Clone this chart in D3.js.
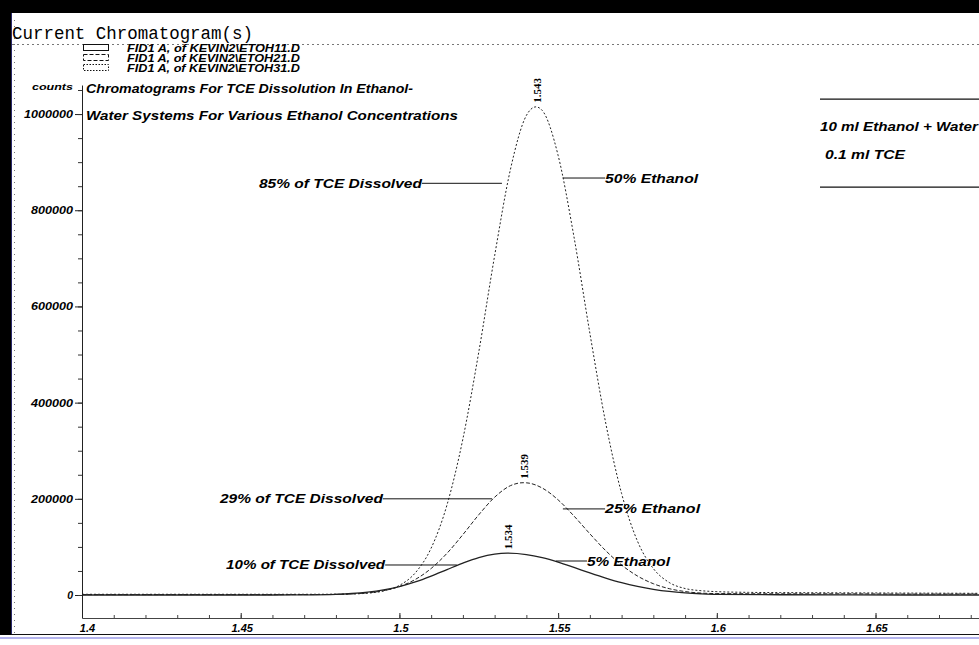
<!DOCTYPE html>
<html><head><meta charset="utf-8">
<script src="https://cdn.jsdelivr.net/npm/d3@7"></script>
<style>html,body{margin:0;padding:0;background:#fff;}svg{display:block}</style>
</head><body><svg id="c" width="979" height="645"></svg>
<script>
// ---- data ----
const t50 = [1.400,1.420,1.440,1.460,1.470,1.480,1.485,1.490,1.495,1.500,1.505,1.510,1.515,1.520,1.525,1.530,1.535,1.540,1.543,1.545,1.550,1.555,1.560,1.565,1.570,1.575,1.580,1.585,1.590,1.595,1.600,1.610,1.620,1.640,1.660,1.683];
const v50 = [1500,1500,1500,1500,1500,1700,2200,3800,8400,20000,46000,97500,187500,324500,505000,705500,885500,997000,1015000,1007500,914000,744500,544500,357500,211000,112000,55000,26000,13500,9000,7000,5500,5000,4500,4000,3500];
const t25 = [1.400,1.440,1.460,1.475,1.480,1.485,1.490,1.495,1.500,1.505,1.510,1.515,1.520,1.525,1.530,1.535,1.539,1.540,1.545,1.550,1.555,1.560,1.565,1.570,1.575,1.580,1.585,1.590,1.595,1.600,1.620,1.640,1.660,1.683];
const v25 = [800,800,800,1000,1400,2300,4500,9000,17600,32300,55200,86800,125600,166800,203300,227400,233500,233300,222400,197800,164200,127300,92200,62400,39500,23500,13200,7200,4000,3000,2500,2500,2000,2000];
const t5 = [1.400,1.440,1.460,1.470,1.480,1.485,1.490,1.495,1.500,1.505,1.510,1.515,1.520,1.525,1.530,1.534,1.540,1.545,1.550,1.555,1.560,1.565,1.570,1.575,1.580,1.585,1.590,1.595,1.600,1.620,1.640,1.660,1.683];
const v5 = [0,0,0,300,1500,3100,6000,10600,17500,27100,39200,52800,66300,77800,85100,87000,84100,77600,68300,57300,45900,35100,25500,17800,11800,7400,4500,2600,1400,500,300,0,0];

const peakTimes = [1.534, 1.539, 1.543];
const peakValues = [87000, 233500, 1015000];
const peakLabels = ["1.534", "1.539", "1.543"];

const yTicks = [0, 200000, 400000, 600000, 800000, 1000000];
const yTickLabels = ["0", "200000", "400000", "600000", "800000", "1000000"];
const xTicks = [1.4, 1.45, 1.5, 1.55, 1.6, 1.65];
const xTickLabels = ["1.4", "1.45", "1.5", "1.55", "1.6", "1.65"];

const legendLabels = ["FID1 A,  of KEVIN2\\ETOH11.D", "FID1 A,  of KEVIN2\\ETOH21.D", "FID1 A,  of KEVIN2\\ETOH31.D"];
const titleLines = ["Chromatograms For TCE Dissolution In Ethanol-", "Water Systems For Various Ethanol Concentrations"];

const leftNotes = ["10% of TCE Dissolved", "29% of TCE Dissolved", "85% of TCE Dissolved"];
const leftNoteTimes = [[1.4955, 1.5181], [1.4948, 1.5292], [1.5071, 1.5323]];
const leftNoteValues = [62400, 200000, 856000];
const rightNotes = ["5% Ethanol", "25% Ethanol", "50% Ethanol"];
const rightNoteTimes = [[1.5493, 1.5591], [1.5515, 1.5648], [1.5515, 1.5648]];
const rightNoteValues = [70700, 179000, 867000];

const boxLines = ["10 ml Ethanol + Water", "0.1 ml TCE"];

// ---- layout ----
const svg = d3.select("#c");
const W = 979, H = 645;
const L = 82, R = 979, T = 85, B = 618;
const x = d3.scaleLinear().domain([1.4, 1.6826]).range([L, R]);
const y = d3.scaleLinear().domain([-47800, 1060400]).range([B, T]);

const SANS = "'Liberation Sans', Arial, sans-serif";
function txt(g, px, py, s, size, opts = {}) {
  const t = g.append("text").attr("x", px).attr("y", py).text(s)
    .attr("font-family", opts.family || SANS)
    .attr("font-size", size)
    .attr("font-weight", opts.weight || "bold")
    .attr("font-style", opts.style || "italic")
    .attr("fill", "#000")
    .attr("text-anchor", opts.anchor || "start");
  if (opts.width) t.attr("textLength", opts.width).attr("lengthAdjust", "spacingAndGlyphs");
  return t;
}

svg.append("rect").attr("width", W).attr("height", H).attr("fill", "#fff");
// scan frame
svg.append("rect").attr("x", 0).attr("y", 0).attr("width", W).attr("height", 13).attr("fill", "#000");
svg.append("rect").attr("x", 0).attr("y", 0).attr("width", 11).attr("height", 635).attr("fill", "#000");
svg.append("line").attr("x1", 11.5).attr("x2", 11.5).attr("y1", 13).attr("y2", 635).attr("stroke", "#2a2a6a").attr("stroke-width", 1);
svg.append("line").attr("x1", 14.5).attr("x2", 14.5).attr("y1", 20).attr("y2", 634).attr("stroke", "#777").attr("stroke-dasharray", "1,5");
svg.append("line").attr("x1", 12).attr("x2", W).attr("y1", 44.5).attr("y2", 44.5).attr("stroke", "#777").attr("stroke-dasharray", "2,3");
svg.append("line").attr("x1", 11).attr("x2", W).attr("y1", 634.5).attr("y2", 634.5).attr("stroke", "#111").attr("stroke-width", 1.2);
svg.append("line").attr("x1", 0).attr("x2", W).attr("y1", 638).attr("y2", 638).attr("stroke", "#b4b4ee").attr("stroke-width", 2);

// header
txt(svg, 12, 39, "Current Chromatogram(s)", 17.5, {family: "'Liberation Mono', 'Courier New', monospace", weight: "normal", style: "normal", width: 241});

// legend
const dashes = [null, "4,2", "1.5,1.5"];
legendLabels.forEach((s, i) => {
  const cy = [48, 58, 68][i];
  svg.append("rect").attr("x", 83.5).attr("y", cy - 3.5).attr("width", 25).attr("height", 6)
    .attr("fill", "none").attr("stroke", "#111").attr("stroke-width", 1)
    .attr("stroke-dasharray", dashes[i]);
  txt(svg, 127, cy + 3.5, s, 10, {width: 173});
});

// y label and titles
txt(svg, 32, 90, "counts", 9, {width: 41});
txt(svg, 86, 93, titleLines[0], 13, {width: 327});
txt(svg, 86, 120, titleLines[1], 13, {width: 372});

// axes
const yAxis = svg.append("g").attr("transform", `translate(${L},0)`)
  .call(d3.axisLeft(y).tickValues(yTicks).tickFormat((d, i) => yTickLabels[i]).tickSize(7).tickSizeOuter(0).tickPadding(2));
yAxis.selectAll("text").attr("font-family", SANS).attr("font-size", 10.5).attr("font-weight", "bold").attr("font-style", "italic")
  .attr("fill", "#000").each(function(d, i) { const n = yTickLabels[i].length; if (n > 1) d3.select(this).attr("textLength", n * 7).attr("lengthAdjust", "spacingAndGlyphs"); });
yAxis.select(".domain").attr("stroke", "#222");
yAxis.selectAll(".tick line").attr("stroke", "#222");
svg.append("g").attr("transform", `translate(${L},0)`)
  .call(d3.axisLeft(y).tickValues(d3.range(0, 1050001, 50000)).tickFormat("").tickSize(4).tickSizeOuter(0))
  .call(g => g.select(".domain").remove()).selectAll("line").attr("stroke", "#333");

const xAxis = svg.append("g").attr("transform", `translate(0,${B})`)
  .call(d3.axisBottom(x).tickValues(xTicks).tickFormat((d, i) => xTickLabels[i]).tickSize(-5).tickSizeOuter(0).tickPadding(6));
xAxis.selectAll("text").attr("font-family", SANS).attr("font-size", 11).attr("font-weight", "bold").attr("font-style", "italic").attr("fill", "#000")
  .attr("dx", (d, i) => i === 0 ? 5 : 1);
xAxis.select(".domain").attr("stroke", "#444");
xAxis.selectAll(".tick line").attr("stroke", "#222");
svg.append("g").attr("transform", `translate(0,${B})`)
  .call(d3.axisBottom(x).tickValues(d3.range(1.41, 1.685, 0.01)).tickFormat("").tickSize(-3).tickSizeOuter(0))
  .call(g => g.select(".domain").remove()).selectAll("line").attr("stroke", "#444");

// traces
const line = d3.line().x(d => x(d[0])).y(d => y(d[1])).curve(d3.curveMonotoneX);
const series = [
  {t: t5, v: v5, dash: null, w: 1.3},
  {t: t25, v: v25, dash: "4,2", w: 1},
  {t: t50, v: v50, dash: "2,2", w: 1}
];
series.forEach(s => {
  svg.append("path").datum(s.t.map((t, i) => [t, s.v[i]]))
    .attr("d", line).attr("fill", "none").attr("stroke", "#222").attr("stroke-width", s.w)
    .attr("stroke-dasharray", s.dash);
});

// peak labels
peakTimes.forEach((t, i) => {
  svg.append("text").attr("transform", `translate(${x(t) + 5},${y(peakValues[i]) - 4}) rotate(-90)`)
    .attr("font-family", "'Liberation Serif', 'Times New Roman', serif").attr("font-weight", "bold")
    .attr("font-size", 11).attr("fill", "#000").text(peakLabels[i]);
});

// annotations
const leftW = [159, 163, 163];
leftNotes.forEach((s, i) => {
  const [ta, tb] = leftNoteTimes[i];
  const yy = y(leftNoteValues[i]);
  svg.append("line").attr("x1", x(ta)).attr("x2", x(tb)).attr("y1", yy).attr("y2", yy).attr("stroke", "#111").attr("stroke-width", 1);
  txt(svg, x(ta), yy + 4.5, s, 12.5, {anchor: "end", width: leftW[i]});
});
const rightW = [83, 95, 93];
rightNotes.forEach((s, i) => {
  const [ta, tb] = rightNoteTimes[i];
  const yy = y(rightNoteValues[i]);
  svg.append("line").attr("x1", x(ta)).attr("x2", x(tb)).attr("y1", yy).attr("y2", yy).attr("stroke", "#111").attr("stroke-width", 1);
  txt(svg, x(tb), yy + 4.5, s, 12.5, {width: rightW[i]});
});

// right box
const bx = x(1.6325);
svg.append("line").attr("x1", bx).attr("x2", R).attr("y1", y(1031000)).attr("y2", y(1031000)).attr("stroke", "#111").attr("stroke-width", 1.3);
svg.append("line").attr("x1", bx).attr("x2", R).attr("y1", y(848000)).attr("y2", y(848000)).attr("stroke", "#111").attr("stroke-width", 1.3);
txt(svg, bx, y(975000) + 4.5, boxLines[0], 12.5, {width: 158});
txt(svg, bx + 5, y(916000) + 4.5, boxLines[1], 12.5, {width: 80});
</script></body></html>
